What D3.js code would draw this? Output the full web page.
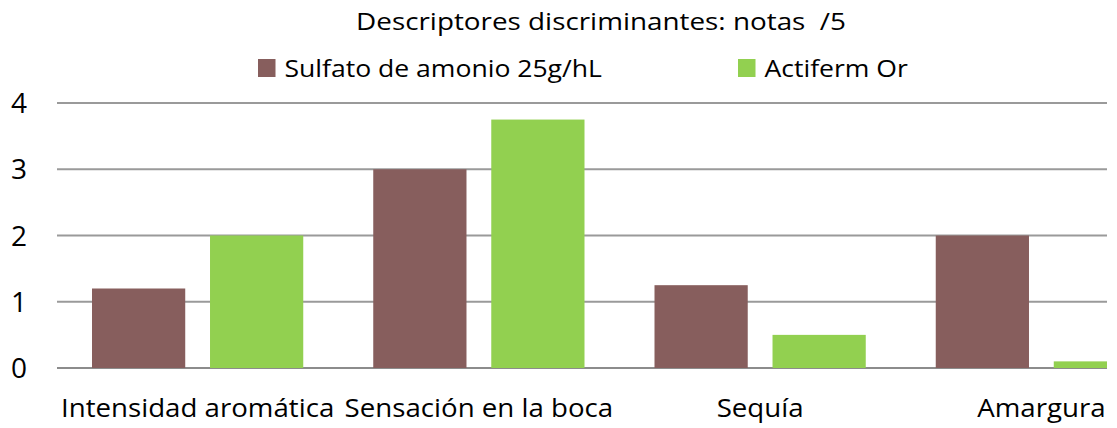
<!DOCTYPE html>
<html>
<head>
<meta charset="utf-8">
<script src="https://cdn.jsdelivr.net/npm/d3@7"></script>
<style>
  body { margin: 0; background: #fff; }
  svg { display: block; font-family: "Open Sans", sans-serif; }
</style>
</head>
<body>
<div id="chart"></div>
<script>
// data
const categories = ["Intensidad aromática", "Sensación en la boca", "Sequía", "Amargura"];
const seriesNames = ["Sulfato de amonio 25g/hL", "Actiferm Or"];
const sulfatoValues = [1.2, 3.0, 1.25, 2.0];
const actifermValues = [2.0, 3.75, 0.5, 0.1];
const yTicks = [0, 1, 2, 3, 4];
const colors = ["#875e5d", "#92d050"];

const width = 1117, height = 428;
const margins = { top: 103, bottom: 60, left: 57 };
const plotRight = 1182;   // plot runs past the visible edge
const visibleRight = 1107;

const svg = d3.select("#chart").append("svg")
  .attr("width", width)
  .attr("height", height);

svg.append("clipPath").attr("id", "clip")
  .append("rect")
  .attr("x", 0).attr("y", 0)
  .attr("width", visibleRight).attr("height", height);

const rows = categories.map((c, i) => ({ cat: c, values: [sulfatoValues[i], actifermValues[i]] }));

const x0 = d3.scaleBand()
  .domain(categories)
  .range([margins.left, plotRight])
  .padding(0);

const x1 = d3.scaleBand()
  .domain(seriesNames)
  .range([35, x0.bandwidth() - 35])
  .paddingInner(0.21);

const y = d3.scaleLinear()
  .domain([0, 4])
  .range([height - margins.bottom, margins.top]);

const plot = svg.append("g").attr("clip-path", "url(#clip)");

// gridlines
plot.append("g")
  .selectAll("line")
  .data(yTicks)
  .join("line")
  .attr("x1", margins.left)
  .attr("x2", plotRight)
  .attr("y1", d => y(d))
  .attr("y2", d => y(d))
  .attr("stroke", d => d === 0 ? "#8c8c8c" : "#9a9a9a")
  .attr("stroke-width", 2);

// bars
plot.append("g")
  .selectAll("g")
  .data(rows)
  .join("g")
  .attr("transform", d => `translate(${x0(d.cat)},0)`)
  .selectAll("rect")
  .data(d => d.values.map((v, i) => ({ name: seriesNames[i], v, i })))
  .join("rect")
  .attr("x", d => x1(d.name))
  .attr("width", x1.bandwidth())
  .attr("y", d => y(d.v))
  .attr("height", d => y(0) - y(d.v))
  .attr("fill", d => colors[d.i]);

// y tick labels
svg.append("g")
  .selectAll("text")
  .data(yTicks)
  .join("text")
  .attr("x", 27)
  .attr("y", d => y(d))
  .attr("dy", "0.36em")
  .attr("text-anchor", "end")
  .attr("font-size", 28)
  .attr("fill", "#000")
  .text(d => d);

// the source text is a bit wider than Open Sans, so stretch horizontally
const catStretch = 1.085;
svg.append("g")
  .selectAll("text")
  .data(categories)
  .join("text")
  .attr("font-size", 25.5)
  .attr("fill", "#000")
  .attr("text-anchor", "middle")
  .text(d => d)
  .each(function(d) {
    const w = this.getComputedTextLength() * catStretch;
    const cx = Math.min(x0(d) + x0.bandwidth() / 2, visibleRight - w / 2);
    d3.select(this).attr("transform", `translate(${cx},417) scale(${catStretch},1)`);
  });

// title
svg.append("text")
  .attr("transform", "translate(601,29.5) scale(1.16,1)")
  .attr("text-anchor", "middle")
  .attr("font-size", 24)
  .attr("fill", "#000")
  .style("white-space", "pre")
  .text("Descriptores discriminantes: notas  /5");

// legend
const legendX = [258, 738];
const legend = svg.append("g")
  .selectAll("g")
  .data(seriesNames)
  .join("g")
  .attr("transform", (d, i) => `translate(${legendX[i]},59)`);

legend.append("rect")
  .attr("width", 17.5)
  .attr("height", 18)
  .attr("fill", (d, i) => colors[i]);

legend.append("text")
  .attr("transform", "translate(26.5,17.5) scale(1.107,1)")
  .attr("font-size", 24)
  .attr("fill", "#000")
  .text(d => d);
</script>
</body>
</html>
